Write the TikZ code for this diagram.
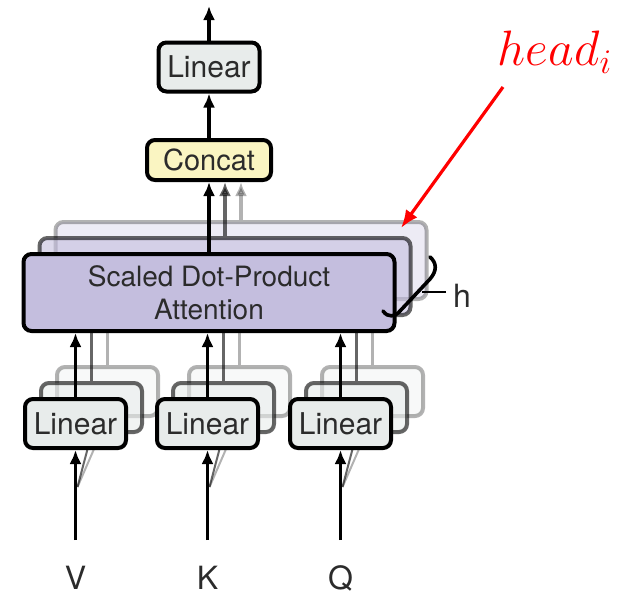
\documentclass[tikz,border=0pt]{standalone}
\usepackage{fontspec}
\setmainfont{TeX Gyre Heros}
\usetikzlibrary{positioning,arrows.meta}

\definecolor{linfill}{HTML}{E8ECEB}
\definecolor{catfill}{HTML}{FAF5C2}
\definecolor{attfill}{HTML}{C4BEDE}
\definecolor{txtgray}{HTML}{2B2B2B}

\pgfdeclarelayer{bg}
\pgfsetlayers{bg,main}

\tikzset{
  blk/.style={draw=black, line width=2pt, rounded corners=4pt, text=txtgray,
    inner sep=0pt, font=\fontsize{15}{18}\selectfont},
  linbox/.style={blk, fill=linfill, minimum width=50.5pt, minimum height=24.5pt},
  catbox/.style={blk, fill=catfill, minimum width=62pt, minimum height=20pt,
    font=\fontsize{14.5}{17}\selectfont},
  attbox/.style={blk, fill=attfill, minimum width=185.5pt, minimum height=38.5pt,
    align=center, font=\fontsize{14}{16.5}\selectfont},
  arr/.style={line width=1.7pt, -{Latex[length=7pt,width=6pt]}},
  lbl/.style={text=txtgray, font=\fontsize{16}{19}\selectfont}
}

\begin{document}
\begin{tikzpicture}[x=0.5pt,y=-0.5pt]
  \useasboundingbox (0,0) rectangle (625,595);
  % front stack
  \node[linbox] (lo) at (209,67) {Linear};
  \node[catbox] (cat) at (209,160) {Concat};
  \node[attbox] (att) at (209,292.5) {Scaled Dot-Product\\Attention};
  \node[linbox] (linv) at (75.5,423.5) {Linear};
  \node[linbox] (link) at (207.5,423.5) {Linear};
  \node[linbox] (linq) at (340.5,423.5) {Linear};
  % inputs
  \node[lbl] (v) at (75.5,578) {V};
  \node[lbl] (k) at (207.5,578) {K};
  \node[lbl] (q) at (340.5,578) {Q};
  \coordinate (inv) at (75.5,540);
  \coordinate (ink) at (207.5,540);
  \coordinate (inq) at (340.5,540);
  \coordinate (out) at (209,6);
  \draw[arr] (inv) -- (linv);
  \draw[arr] (ink) -- (link);
  \draw[arr] (inq) -- (linq);
  \draw[arr] (linv) -- (linv |- att.south);
  \draw[arr] (link) -- (link |- att.south);
  \draw[arr] (linq) -- (linq |- att.south);
  \draw[arr] (att) -- (cat);
  \draw[arr] (cat) -- (lo);
  \draw[arr] (lo) -- (out);
  % the other heads, behind
  \begin{pgfonlayer}{bg}
    \foreach \o/\s in {32/0.3, 16/0.6} {
      \node[attbox, opacity=\s] (att\o) at (209+\o, 292.5-\o) {};
      \draw[arr, opacity=\s] (att\o.north) -- (att\o.north |- cat.south);
      \foreach \n/\x in {v/75.5, k/207.5, q/340.5} {
        \node[linbox, opacity=\s] (lin\n\o) at (\x+\o, 423.5-\o) {};
        \draw[line width=1.7pt, opacity=\s] (lin\n\o.north) -- (lin\n\o.north |- att.south);
        \draw[line width=1pt, opacity=\s] ([shift={(2,37)}]lin\n.south) -- (lin\n\o.south);
      }
    }
  \end{pgfonlayer}
  % h brace
  \node[lbl] (h) at (462,296) {h};
  \draw[line width=1.8pt, line cap=round]
    (383,311) .. controls (388,318) and (395,317) .. (400,311) -- (430,279)
    .. controls (437,271) and (437,263) .. (430,257);
  \draw[line width=1pt] ([yshift=2pt]h.west) -- ++(-24,0);
  % annotation
  \node[text=red, font=\fontsize{25}{30}\selectfont] (head) at (555,52) {$head_i$};
  \coordinate (hs) at (503,87);
  \coordinate (ht) at (401,228);
  \draw[red, line width=1.6pt, -{Latex[length=9pt,width=7pt]}] (hs) -- (ht);
\end{tikzpicture}
\end{document}
